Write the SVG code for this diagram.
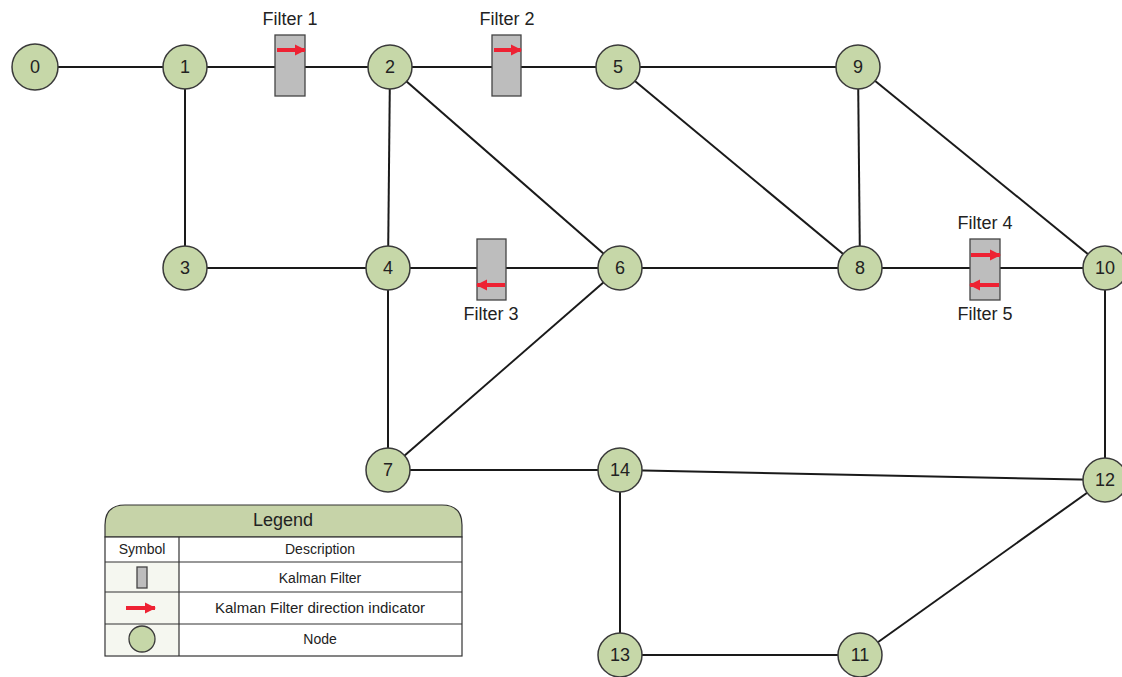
<svg xmlns="http://www.w3.org/2000/svg" width="1122" height="677" viewBox="0 0 1122 677">
<defs>
<style>
.node circle{fill:#c6d7a8;stroke:#3a3a3a;stroke-width:1.5}
.node text,.lbl{font-family:"Liberation Sans",Arial,sans-serif;font-size:18px;fill:#222;text-anchor:middle}
.edge{stroke:#1a1a1a;stroke-width:2;fill:none}
.filter{fill:#bdbdbd;stroke:#444;stroke-width:1.3}
.dir{stroke:#ee2233;stroke-width:4;fill:none}
.leg{font-family:"Liberation Sans",Arial,sans-serif;fill:#222;text-anchor:middle}
.grid{stroke:#333;stroke-width:1.2;fill:none}
</style>
<marker id="ah" viewBox="0 0 10 10" refX="9" refY="5" markerWidth="2.8" markerHeight="3.2" orient="auto" markerUnits="strokeWidth">
<path d="M0,0 L10,5 L0,10 z" fill="#ee2233"/>
</marker>
</defs>
<rect width="1122" height="677" fill="#fff"/>
<g id="connectors">
<line class="edge" x1="35" y1="67" x2="185" y2="67"/>
<line class="edge" x1="185" y1="67" x2="390" y2="67"/>
<line class="edge" x1="390" y1="67" x2="618" y2="67"/>
<line class="edge" x1="618" y1="67" x2="858" y2="67"/>
<line class="edge" x1="185" y1="67" x2="185" y2="268"/>
<line class="edge" x1="390" y1="67" x2="388" y2="268"/>
<line class="edge" x1="390" y1="67" x2="620" y2="268"/>
<line class="edge" x1="185" y1="268" x2="388" y2="268"/>
<line class="edge" x1="388" y1="268" x2="620" y2="268"/>
<line class="edge" x1="620" y1="268" x2="860" y2="268"/>
<line class="edge" x1="618" y1="67" x2="860" y2="268"/>
<line class="edge" x1="858" y1="67" x2="860" y2="268"/>
<line class="edge" x1="858" y1="67" x2="1105" y2="268"/>
<line class="edge" x1="860" y1="268" x2="1105" y2="268"/>
<line class="edge" x1="388" y1="268" x2="388" y2="470"/>
<line class="edge" x1="620" y1="268" x2="388" y2="470" stroke-width="1.5"/>
<line class="edge" x1="388" y1="470" x2="620" y2="470"/>
<line class="edge" x1="620" y1="470" x2="1105" y2="480"/>
<line class="edge" x1="1105" y1="268" x2="1105" y2="480"/>
<line class="edge" x1="620" y1="470" x2="620" y2="655"/>
<line class="edge" x1="620" y1="655" x2="860" y2="655"/>
<line class="edge" x1="860" y1="655" x2="1105" y2="480" stroke-width="1.5"/>
</g>
<g id="filter1">
<rect class="filter" x="275" y="35" width="30" height="61"/>
<line class="dir" x1="277" y1="50" x2="305" y2="50" marker-end="url(#ah)"/>
<text class="lbl" x="290" y="25">Filter 1</text>
</g>
<g id="filter2">
<rect class="filter" x="492" y="35" width="29" height="61"/>
<line class="dir" x1="494" y1="50" x2="521" y2="50" marker-end="url(#ah)"/>
<text class="lbl" x="507" y="25">Filter 2</text>
</g>
<g id="filter3">
<rect class="filter" x="477" y="239" width="29" height="61"/>
<line class="dir" x1="505" y1="285" x2="477" y2="285" marker-end="url(#ah)"/>
<text class="lbl" x="491" y="320">Filter 3</text>
</g>
<g id="filter4">
<rect class="filter" x="970" y="239" width="30" height="61"/>
<line class="dir" x1="971" y1="255" x2="1000" y2="255" marker-end="url(#ah)"/>
<text class="lbl" x="985" y="229">Filter 4</text>
</g>
<g id="filter5">
<line class="dir" x1="999" y1="285" x2="970" y2="285" marker-end="url(#ah)"/>
<text class="lbl" x="985" y="320">Filter 5</text>
</g>
<g id="n0" class="node"><circle cx="35" cy="67" r="23"/><text x="35" y="73">0</text></g>
<g id="n1" class="node"><circle cx="185" cy="67" r="22"/><text x="185" y="73">1</text></g>
<g id="n2" class="node"><circle cx="390" cy="67" r="22"/><text x="390" y="73">2</text></g>
<g id="n5" class="node"><circle cx="618" cy="67" r="22"/><text x="618" y="73">5</text></g>
<g id="n9" class="node"><circle cx="858" cy="67" r="22"/><text x="858" y="73">9</text></g>
<g id="n3" class="node"><circle cx="185" cy="268" r="22"/><text x="185" y="274">3</text></g>
<g id="n4" class="node"><circle cx="388" cy="268" r="22"/><text x="388" y="274">4</text></g>
<g id="n6" class="node"><circle cx="620" cy="268" r="22"/><text x="620" y="274">6</text></g>
<g id="n8" class="node"><circle cx="860" cy="268" r="22"/><text x="860" y="274">8</text></g>
<g id="n10" class="node"><circle cx="1105" cy="268" r="22"/><text x="1105" y="274">10</text></g>
<g id="n7" class="node"><circle cx="388" cy="470" r="22"/><text x="388" y="476">7</text></g>
<g id="n14" class="node"><circle cx="620" cy="470" r="22"/><text x="620" y="476">14</text></g>
<g id="n12" class="node"><circle cx="1105" cy="480" r="22"/><text x="1105" y="486">12</text></g>
<g id="n13" class="node"><circle cx="620" cy="655" r="22"/><text x="620" y="661">13</text></g>
<g id="n11" class="node"><circle cx="860" cy="655" r="22"/><text x="860" y="661">11</text></g>
<g id="legend">
<path d="M105,537 L105,525 Q105,505 125,505 L442,505 Q462,505 462,525 L462,537 Z" fill="#c6d3a8" stroke="#333" stroke-width="1.2"/>
<rect x="105" y="537" width="357" height="119" fill="#fff" stroke="#333" stroke-width="1.2"/>
<rect x="106" y="562" width="73" height="93" fill="#f5f7f0"/>
<line class="grid" x1="105" y1="562" x2="462" y2="562"/>
<line class="grid" x1="105" y1="592" x2="462" y2="592" stroke="#bbb"/>
<line class="grid" x1="105" y1="624" x2="462" y2="624" stroke="#bbb"/>
<line class="grid" x1="179" y1="537" x2="179" y2="656"/>
<text class="leg" x="283" y="526" font-size="18">Legend</text>
<text class="leg" x="142" y="554" font-size="14">Symbol</text>
<text class="leg" x="320" y="554" font-size="14">Description</text>
<rect class="filter" x="137" y="567" width="10" height="21"/>
<text class="leg" x="320" y="583" font-size="14">Kalman Filter</text>
<line class="dir" x1="126" y1="608" x2="155" y2="608" marker-end="url(#ah)"/>
<text class="leg" x="320" y="613" font-size="15">Kalman Filter direction indicator</text>
<circle cx="142" cy="639" r="13" fill="#c6d7a8" stroke="#3a3a3a" stroke-width="1.3"/>
<text class="leg" x="320" y="644" font-size="14">Node</text>
</g>
</svg>
